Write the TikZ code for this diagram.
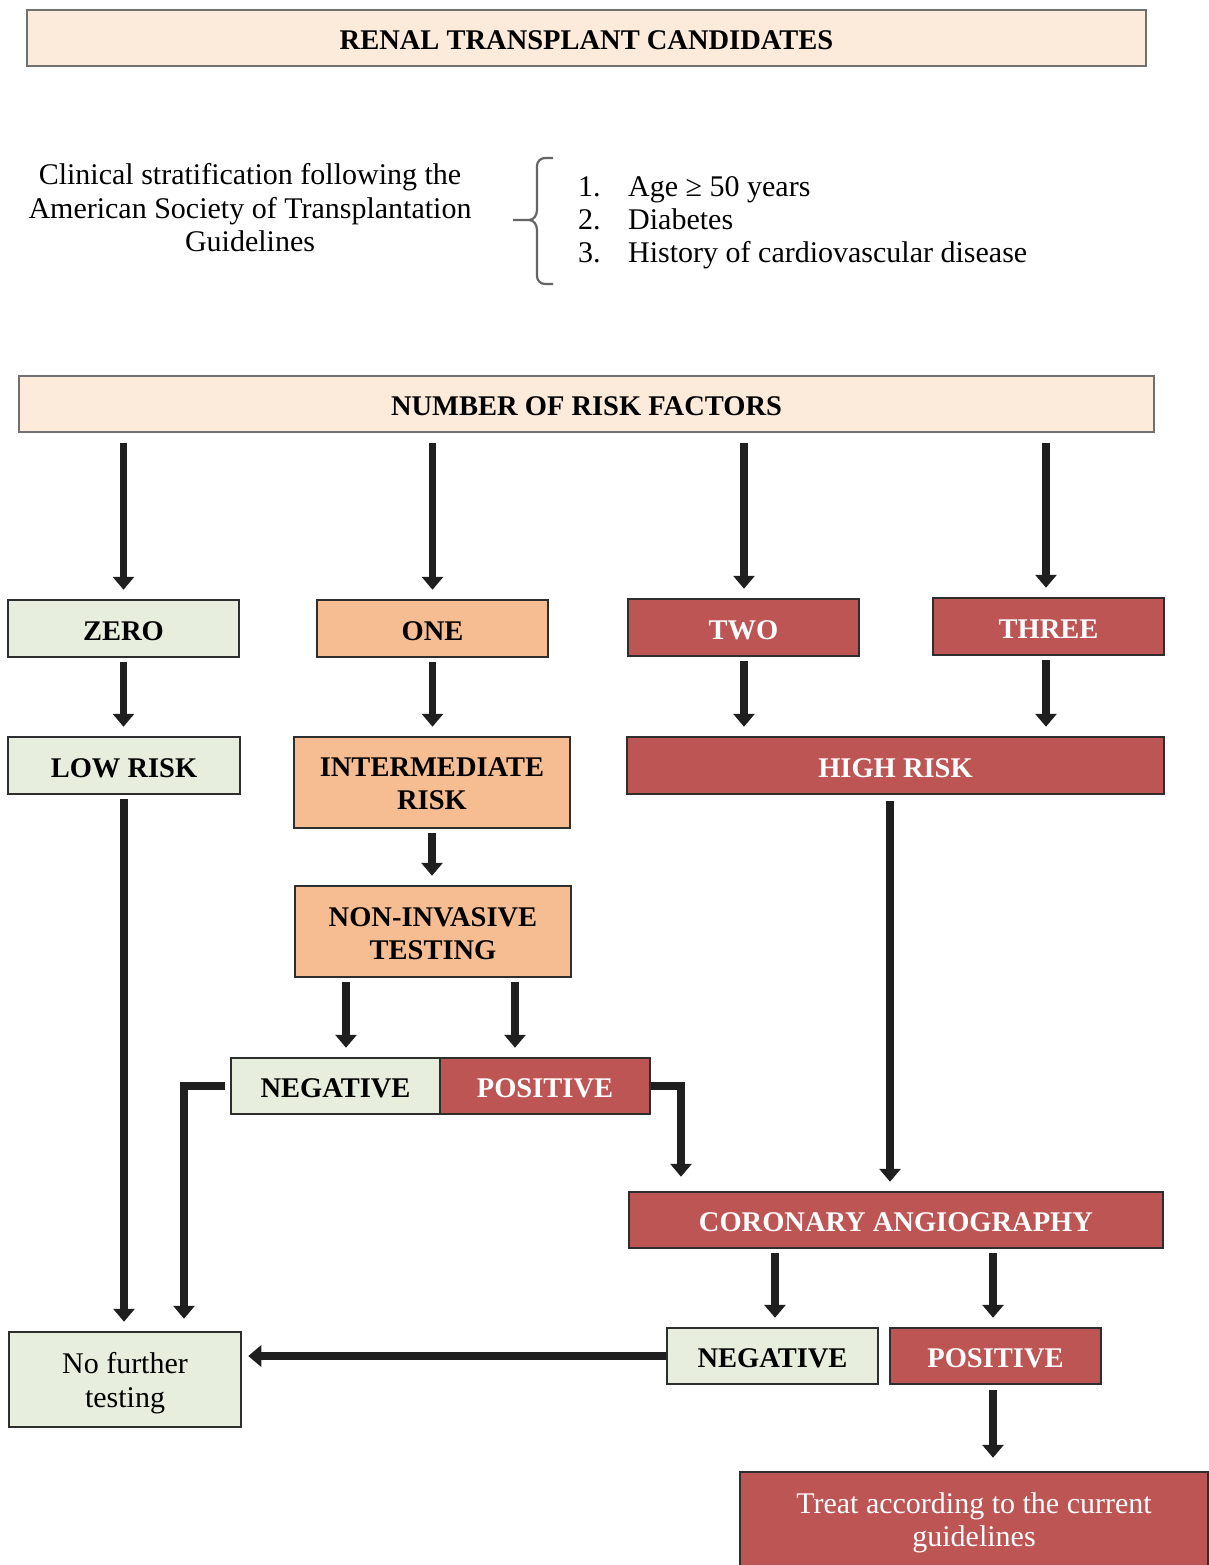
\documentclass[tikz,border=0pt]{standalone}
\usepackage{fontspec}
\setmainfont{Liberation Serif}
\usetikzlibrary{arrows.meta,calc}
\definecolor{peach}{HTML}{FCEADB}
\definecolor{lgreen}{HTML}{E8EEDD}
\definecolor{orng}{HTML}{F5BD91}
\definecolor{rred}{HTML}{BC5553}
\definecolor{edge}{HTML}{2E2E2E}
\definecolor{hedge}{HTML}{707070}
\begin{document}
\begin{tikzpicture}[x=1pt,y=-1pt,
 box/.style={draw=edge, line width=2.5pt, inner sep=0pt, align=center, font=\fontsize{28.5}{33}\selectfont\bfseries},
 one line/.style={text height=23.5pt, text depth=0pt},
 hdr/.style={box, fill=peach, draw=hedge},
 grnbox/.style={box, fill=lgreen},
 orgbox/.style={box, fill=orng},
 redbox/.style={box, fill=rred, text=white},
 plain/.style={font=\fontsize{30}{33.5}\selectfont\mdseries},
 arr/.style={draw=black!88, line width=7.5pt, -{Triangle[width=21pt,length=13pt]}, shorten <=10pt, shorten >=9pt},
]
\clip (0,0) rectangle (1209,1565);
\fill[white] (0,0) rectangle (1209,1565);

% headers
\node[hdr, one line, minimum width=1119pt, minimum height=56pt] (top) at (586.5,38) {RENAL TRANSPLANT CANDIDATES};
\node[hdr, one line, minimum width=1135pt, minimum height=56pt] (nrf) at (586.5,404) {NUMBER OF RISK FACTORS};

% clinical text
\node[plain, align=center, inner sep=0pt] (clin) at (250,208) {Clinical stratification following the\\American Society of Transplantation\\Guidelines};

% brace
\draw[draw=hedge!90!black, line width=2.2pt, line join=round]
  (553,158) -- (545,158) to[out=180,in=90] (537,166) -- (537,210) to[out=-90,in=0] (529,220) -- (513,220)
  (529,220) to[out=0,in=90] (537,230) -- (537,276) to[out=-90,in=180] (545,284) -- (553,284);

% list
\node[plain, anchor=base west, inner sep=0pt] (n1) at (578,196.5) {1.};
\node[plain, anchor=base west, inner sep=0pt] (n2) at (578,229.5) {2.};
\node[plain, anchor=base west, inner sep=0pt] (n3) at (578,262.5) {3.};
\node[plain, anchor=base west, inner sep=0pt] (l1) at (628,196.5) {Age ≥ 50 years};
\node[plain, anchor=base west, inner sep=0pt] (l2) at (628,229.5) {Diabetes};
\node[plain, anchor=base west, inner sep=0pt] (l3) at (628,262.5) {History of cardiovascular disease};

% first row
\node[grnbox, one line, minimum width=231pt, minimum height=57pt] (zero) at (123.5,628.5) {ZERO};
\node[orgbox, one line, minimum width=231pt, minimum height=57pt] (one) at (432.5,628.5) {ONE};
\node[redbox, one line, minimum width=231pt, minimum height=57pt] (two) at (743.5,627.5) {TWO};
\node[redbox, one line, minimum width=231pt, minimum height=57pt] (three) at (1048.5,626.5) {THREE};

% second row
\node[grnbox, one line, minimum width=232pt, minimum height=57pt] (low) at (124,765.5) {LOW RISK};
\node[orgbox, text height=54.5pt, text depth=0pt, minimum width=276pt, minimum height=91pt] (int) at (432,782.5) {INTERMEDIATE\\RISK};
\node[redbox, one line, minimum width=537pt, minimum height=57pt] (high) at (895.5,765.5) {HIGH RISK};

\node[orgbox, text height=55.5pt, text depth=0pt, minimum width=276pt, minimum height=91pt] (nit) at (433,931.5) {NON-INVASIVE\\TESTING};

\node[grnbox, one line, minimum width=209pt, minimum height=56pt] (neg) at (335.5,1086) {NEGATIVE};
\node[redbox, one line, minimum width=210pt, minimum height=56pt] (pos) at (545,1086) {POSITIVE};

\node[redbox, one line, minimum width=534pt, minimum height=56pt] (ca) at (896,1220) {CORONARY ANGIOGRAPHY};

\node[grnbox, one line, minimum width=211pt, minimum height=56pt] (neg2) at (772.5,1356) {NEGATIVE};
\node[redbox, one line, minimum width=211pt, minimum height=56pt] (pos2) at (995.5,1356) {POSITIVE};

\node[grnbox, text height=56pt, text depth=0pt, minimum width=232pt, minimum height=95pt, font=\fontsize{30}{34}\selectfont\mdseries] (nft) at (125,1379.5) {No further\\testing};
\node[redbox, text height=53.5pt, text depth=0pt, minimum width=468pt, minimum height=96pt, font=\fontsize{30}{33.5}\selectfont\mdseries] (treat) at (974,1520) {Treat according to the current\\guidelines};

% helper x positions
\coordinate (xa) at (346,0);
\coordinate (xb) at (515,0);
\coordinate (xc) at (184,0);
\coordinate (xd) at (681,0);
\coordinate (xe) at (890,0);
\coordinate (xf) at (744,0);
\coordinate (xg) at (1046,0);
\coordinate (xh) at (993,0);
\coordinate (xi) at (775,0);

% arrows
\draw[arr] (nrf.south -| zero.north) -- (zero.north);
\draw[arr] (nrf.south -| one.north) -- (one.north);
\draw[arr] (nrf.south -| xf) -- (xf |- two.north);
\draw[arr] (nrf.south -| xg) -- (xg |- three.north);

\draw[arr, shorten <=4pt] (zero.south) -- (zero.south |- low.north);
\draw[arr, shorten <=4pt] (one.south) -- (one.south |- int.north);
\draw[arr, shorten <=4pt] (two.south -| xf) -- (xf |- high.north);
\draw[arr, shorten <=4pt] (three.south -| xg) -- (xg |- high.north);

\draw[arr, shorten <=4pt] (int.south) -- (int.south |- nit.north);
\draw[arr, shorten <=4pt] (nit.south -| xa) -- (xa |- neg.north);
\draw[arr, shorten <=4pt] (nit.south -| xb) -- (xb |- pos.north);

\draw[arr, shorten <=4pt] (low.south) -- (low.south |- nft.north);
\draw[arr, shorten <=5pt, shorten >=12pt] (neg.west) -| (xc |- nft.north);
\draw[arr, shorten <=0pt, shorten >=14pt] (pos.east) -| (xd |- ca.north);
\draw[arr, shorten <=6pt] (high.south -| xe) -- (xe |- ca.north);

\draw[arr, shorten <=4pt] (ca.south -| xi) -- (xi |- neg2.north);
\draw[arr, shorten <=4pt] (ca.south -| xh) -- (xh |- pos2.north);
\draw[arr, shorten <=0pt, shorten >=6pt] (neg2.west) -- (neg2.west -| nft.east);
\draw[arr, shorten <=5pt, shorten >=13pt] (pos2.south -| xh) -- (xh |- treat.north);
\end{tikzpicture}
\end{document}
